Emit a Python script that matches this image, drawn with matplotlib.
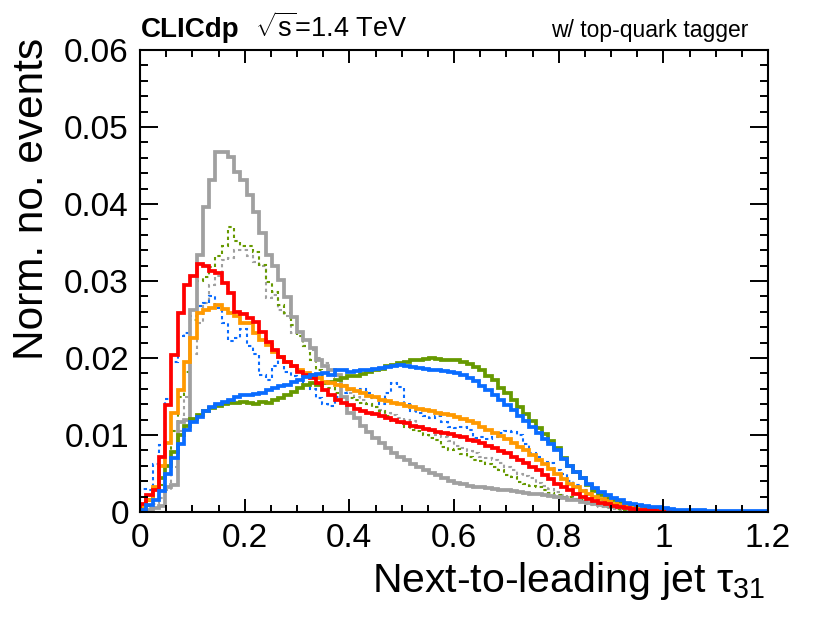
import numpy as np
import matplotlib
matplotlib.use("Agg")
import matplotlib.pyplot as plt
from matplotlib.ticker import MultipleLocator, FuncFormatter

plt.rcParams["font.family"] = ["Liberation Sans", "DejaVu Sans"]
plt.rcParams["mathtext.fontset"] = "custom"
plt.rcParams["mathtext.rm"] = "Liberation Sans"
plt.rcParams["mathtext.it"] = "Liberation Sans:italic"
plt.rcParams["mathtext.bf"] = "Liberation Sans:bold"

# 100 bins between 0 and 1.2
bin_edges = np.linspace(0.0, 1.2, 101)

gray_solid = [
    0.0002, 0.0002, 0.0005, 0.0008, 0.0033, 0.0035, 0.0117, 0.0120, 0.0262, 0.0334,
    0.0396, 0.0431, 0.0468, 0.0467, 0.0461, 0.0442, 0.0431, 0.0412, 0.0390, 0.0362,
    0.0334, 0.0319, 0.0301, 0.0279, 0.0253, 0.0234, 0.0223, 0.0213, 0.0197, 0.0189,
    0.0184, 0.0178, 0.0150, 0.0128, 0.0122, 0.0112, 0.0104, 0.0096, 0.0090, 0.0083,
    0.0077, 0.0071, 0.0067, 0.0062, 0.0058, 0.0055, 0.0051, 0.0048, 0.0044, 0.0040,
    0.0038, 0.0036, 0.0034, 0.0033, 0.0032, 0.0031, 0.0030, 0.0029, 0.0028, 0.0027,
    0.0026, 0.0025, 0.0024, 0.0023, 0.0022, 0.0021, 0.0019, 0.0018, 0.0016, 0.0015,
    0.0013, 0.0012, 0.0011, 0.0009, 0.0008, 0.0007, 0.0006, 0.0005, 0.0004, 0.0003,
    0.0002, 0.0002, 0.0001, 0.0001, 0.0, 0.0, 0.0, 0.0, 0.0, 0.0,
    0.0, 0.0, 0.0, 0.0, 0.0, 0.0, 0.0, 0.0, 0.0, 0.0,
]

gray_dotted = [
    0.0003, 0.0005, 0.0010, 0.0018, 0.0028, 0.0058, 0.0105, 0.0150, 0.0205, 0.0245,
    0.0272, 0.0295, 0.0306, 0.0327, 0.0330, 0.0340, 0.0340, 0.0333, 0.0325, 0.0319,
    0.0278, 0.0282, 0.0262, 0.0255, 0.0232, 0.0228, 0.0215, 0.0210, 0.0200, 0.0193,
    0.0185, 0.0175, 0.0165, 0.0155, 0.0150, 0.0145, 0.0140, 0.0136, 0.0132, 0.0129,
    0.0126, 0.0122, 0.0120, 0.0118, 0.0112, 0.0108, 0.0105, 0.0100, 0.0098, 0.0092,
    0.0086, 0.0083, 0.0079, 0.0076, 0.0072, 0.0070, 0.0068, 0.0063, 0.0058, 0.0054,
    0.0050, 0.0047, 0.0044, 0.0038, 0.0034, 0.0030, 0.0026, 0.0022, 0.0019, 0.0016,
    0.0013, 0.0011, 0.0009, 0.0007, 0.0005, 0.0004, 0.0003, 0.0002, 0.0001, 0.0001,
    0.0, 0.0, 0.0, 0.0, 0.0, 0.0, 0.0, 0.0, 0.0, 0.0,
    0.0, 0.0, 0.0, 0.0, 0.0, 0.0, 0.0, 0.0, 0.0, 0.0,
]

green_dotted = [
    0.0002, 0.0008, 0.0020, 0.0035, 0.0060, 0.0105, 0.0150, 0.0182, 0.0250, 0.0300,
    0.0305, 0.0318, 0.0332, 0.0345, 0.0370, 0.0352, 0.0345, 0.0345, 0.0338, 0.0321,
    0.0299, 0.0286, 0.0269, 0.0258, 0.0243, 0.0228, 0.0215, 0.0197, 0.0184, 0.0167,
    0.0161, 0.0155, 0.0150, 0.0148, 0.0145, 0.0142, 0.0140, 0.0137, 0.0131, 0.0125,
    0.0118, 0.0115, 0.0111, 0.0107, 0.0105, 0.0100, 0.0096, 0.0093, 0.0085, 0.0080,
    0.0082, 0.0075, 0.0071, 0.0068, 0.0066, 0.0062, 0.0058, 0.0054, 0.0048, 0.0045,
    0.0039, 0.0037, 0.0034, 0.0032, 0.0028, 0.0025, 0.0022, 0.0020, 0.0020, 0.0017,
    0.0015, 0.0013, 0.0011, 0.0009, 0.0007, 0.0006, 0.0004, 0.0003, 0.0002, 0.0001,
    0.0, 0.0, 0.0, 0.0, 0.0, 0.0, 0.0, 0.0, 0.0, 0.0,
    0.0, 0.0, 0.0, 0.0, 0.0, 0.0, 0.0, 0.0, 0.0, 0.0,
]

blue_dotted = [
    0.0030, 0.0028, 0.0062, 0.0087, 0.0147, 0.0195, 0.0228, 0.0232, 0.0255, 0.0268,
    0.0272, 0.0280, 0.0265, 0.0245, 0.0222, 0.0226, 0.0238, 0.0215, 0.0205, 0.0178,
    0.0172, 0.0190, 0.0200, 0.0182, 0.0176, 0.0170, 0.0165, 0.0160, 0.0148, 0.0140,
    0.0138, 0.0150, 0.0155, 0.0158, 0.0157, 0.0160, 0.0155, 0.0148, 0.0140, 0.0155,
    0.0167, 0.0162, 0.0140, 0.0131, 0.0128, 0.0125, 0.0122, 0.0125, 0.0117, 0.0110,
    0.0109, 0.0110, 0.0106, 0.0096, 0.0098, 0.0095, 0.0097, 0.0102, 0.0105, 0.0104,
    0.0100, 0.0088, 0.0076, 0.0072, 0.0065, 0.0063, 0.0055, 0.0050, 0.0040, 0.0035,
    0.0028, 0.0023, 0.0020, 0.0016, 0.0012, 0.0010, 0.0008, 0.0006, 0.0005, 0.0004,
    0.0003, 0.0003, 0.0002, 0.0002, 0.0001, 0.0, 0.0, 0.0, 0.0, 0.0,
    0.0, 0.0, 0.0, 0.0, 0.0, 0.0, 0.0, 0.0, 0.0, 0.0,
]

green_solid = [
    0.0004, 0.0015, 0.0030, 0.0044, 0.0060, 0.0078, 0.0100, 0.0112, 0.0121, 0.0126,
    0.0131, 0.0135, 0.0138, 0.0140, 0.0141, 0.0142, 0.0143, 0.0141, 0.0140, 0.0143,
    0.0141, 0.0146, 0.0148, 0.0152, 0.0156, 0.0161, 0.0165, 0.0167, 0.0165, 0.0167,
    0.0169, 0.0171, 0.0174, 0.0176, 0.0177, 0.0179, 0.0182, 0.0184, 0.0186, 0.0189,
    0.0191, 0.0193, 0.0195, 0.0197, 0.0198, 0.0199, 0.0200, 0.0199, 0.0198, 0.0197,
    0.0197, 0.0195, 0.0192, 0.0188, 0.0184, 0.0177, 0.0171, 0.0161, 0.0154, 0.0146,
    0.0137, 0.0127, 0.0118, 0.0109, 0.0101, 0.0092, 0.0083, 0.0070, 0.0060, 0.0052,
    0.0044, 0.0035, 0.0027, 0.0022, 0.0018, 0.0015, 0.0012, 0.0009, 0.0008, 0.0006,
    0.0005, 0.0004, 0.0003, 0.0002, 0.0001, 0.0, 0.0, 0.0, 0.0, 0.0,
    0.0, 0.0, 0.0, 0.0, 0.0, 0.0, 0.0, 0.0, 0.0, 0.0,
]

orange_solid = [
    0.0006, 0.0015, 0.0033, 0.0060, 0.0089, 0.0128, 0.0158, 0.0195, 0.0226, 0.0258,
    0.0262, 0.0265, 0.0269, 0.0264, 0.0258, 0.0254, 0.0245, 0.0245, 0.0232, 0.0223,
    0.0217, 0.0208, 0.0201, 0.0195, 0.0189, 0.0184, 0.0180, 0.0178, 0.0174, 0.0169,
    0.0167, 0.0165, 0.0163, 0.0160, 0.0157, 0.0154, 0.0151, 0.0149, 0.0146, 0.0144,
    0.0142, 0.0140, 0.0138, 0.0136, 0.0134, 0.0132, 0.0131, 0.0129, 0.0127, 0.0126,
    0.0124, 0.0121, 0.0118, 0.0115, 0.0111, 0.0107, 0.0103, 0.0099, 0.0095, 0.0090,
    0.0085, 0.0080, 0.0074, 0.0068, 0.0062, 0.0056, 0.0049, 0.0043, 0.0037, 0.0032,
    0.0027, 0.0023, 0.0020, 0.0017, 0.0014, 0.0011, 0.0009, 0.0007, 0.0005, 0.0004,
    0.0003, 0.0002, 0.0001, 0.0001, 0.0, 0.0, 0.0, 0.0, 0.0, 0.0,
    0.0, 0.0, 0.0, 0.0, 0.0, 0.0, 0.0, 0.0, 0.0, 0.0,
]

red_solid = [
    0.0011, 0.0022, 0.0029, 0.0072, 0.0139, 0.0204, 0.0258, 0.0295, 0.0306, 0.0322,
    0.0319, 0.0313, 0.0311, 0.0297, 0.0284, 0.0260, 0.0257, 0.0252, 0.0247, 0.0234,
    0.0221, 0.0210, 0.0201, 0.0195, 0.0189, 0.0182, 0.0178, 0.0174, 0.0167, 0.0159,
    0.0152, 0.0146, 0.0141, 0.0139, 0.0134, 0.0131, 0.0129, 0.0127, 0.0125, 0.0122,
    0.0119, 0.0117, 0.0115, 0.0112, 0.0110, 0.0108, 0.0106, 0.0104, 0.0102, 0.0101,
    0.0099, 0.0097, 0.0094, 0.0092, 0.0089, 0.0086, 0.0083, 0.0079, 0.0076, 0.0072,
    0.0068, 0.0064, 0.0059, 0.0054, 0.0048, 0.0043, 0.0037, 0.0033, 0.0028, 0.0023,
    0.0020, 0.0017, 0.0014, 0.0012, 0.0010, 0.0008, 0.0007, 0.0005, 0.0004, 0.0003,
    0.0002, 0.0002, 0.0001, 0.0001, 0.0, 0.0, 0.0, 0.0, 0.0, 0.0,
    0.0, 0.0, 0.0, 0.0, 0.0, 0.0, 0.0, 0.0, 0.0, 0.0,
]

blue_solid = [
    0.0003, 0.0009, 0.0016, 0.0027, 0.0050, 0.0070, 0.0088, 0.0106, 0.0117, 0.0124,
    0.0131, 0.0136, 0.0140, 0.0143, 0.0146, 0.0149, 0.0152, 0.0152, 0.0153, 0.0154,
    0.0159, 0.0161, 0.0163, 0.0165, 0.0169, 0.0172, 0.0175, 0.0178, 0.0179, 0.0180,
    0.0178, 0.0184, 0.0184, 0.0182, 0.0183, 0.0184, 0.0185, 0.0186, 0.0187, 0.0188,
    0.0190, 0.0191, 0.0189, 0.0188, 0.0187, 0.0186, 0.0185, 0.0184, 0.0183, 0.0182,
    0.0181, 0.0178, 0.0174, 0.0170, 0.0164, 0.0158, 0.0152, 0.0146, 0.0139, 0.0132,
    0.0125, 0.0118, 0.0110, 0.0103, 0.0095, 0.0088, 0.0080, 0.0069, 0.0060, 0.0052,
    0.0044, 0.0037, 0.0031, 0.0026, 0.0022, 0.0018, 0.0015, 0.0012, 0.0010, 0.0009,
    0.0008, 0.0007, 0.0006, 0.0005, 0.0004, 0.0003, 0.0003, 0.0002, 0.0002, 0.0002,
    0.0001, 0.0001, 0.0001, 0.0001, 0.0001, 0.0001, 0.0001, 0.0001, 0.0001, 0.0001,
]

GRAY = "#a0a0a0"
GREEN = "#669900"
BLUE = "#0a6cff"
ORANGE = "#ff9900"
RED = "#ff0000"

fig = plt.figure(figsize=(8.3, 6.23), dpi=100)
ax = fig.add_axes([140 / 830, 111 / 623, 628 / 830, 462 / 623])

dotted = (0, (1.6, 1.6))
ax.stairs(gray_dotted, bin_edges, color=GRAY, lw=1.5, linestyle=dotted)
ax.stairs(green_dotted, bin_edges, color=GREEN, lw=1.5, linestyle=dotted)
ax.stairs(blue_dotted, bin_edges, color=BLUE, lw=1.5, linestyle=dotted)
ax.stairs(gray_solid, bin_edges, color=GRAY, lw=2.7)
ax.stairs(green_solid, bin_edges, color=GREEN, lw=2.7)
ax.stairs(orange_solid, bin_edges, color=ORANGE, lw=2.7)
ax.stairs(red_solid, bin_edges, color=RED, lw=2.7)
ax.stairs(blue_solid, bin_edges, color=BLUE, lw=2.7)

ax.set_xlim(0, 1.2)
ax.set_ylim(0, 0.06)

ax.xaxis.set_major_locator(MultipleLocator(0.2))
ax.xaxis.set_minor_locator(MultipleLocator(0.05))
ax.yaxis.set_major_locator(MultipleLocator(0.01))
ax.yaxis.set_minor_locator(MultipleLocator(0.002))
fmt = FuncFormatter(lambda v, p: f"{v:g}")
ax.xaxis.set_major_formatter(fmt)
ax.yaxis.set_major_formatter(fmt)

for s in ax.spines.values():
    s.set_linewidth(1.5)

ax.tick_params(axis="both", which="both", direction="in", top=True, right=True,
               width=1.4, labelsize=24)
ax.tick_params(axis="x", which="major", length=9.5, pad=8)
ax.tick_params(axis="x", which="minor", length=5)
ax.tick_params(axis="y", which="major", length=13, pad=8)
ax.tick_params(axis="y", which="minor", length=6)

fig.text(32 / 830, 1 - 38 / 623, "Norm. no. events", rotation=90,
         ha="center", va="top", fontsize=30.5)
fig.text(765 / 830, 1 - 592 / 623, r"Next-to-leading jet $\mathrm{\tau}_{31}$",
         ha="right", va="baseline", fontsize=29.5)

fig.text(141 / 830, 1 - 37 / 623, "CLICdp", fontweight="bold", fontsize=20,
         ha="left", va="baseline")
fig.text(255 / 830, 1 - 37 / 623, r"$\sqrt{\mathrm{s}}$=1.4 TeV", fontsize=19.5,
         ha="left", va="baseline")
fig.text(748 / 830, 1 - 37 / 623, "w/ top-quark tagger", fontsize=16.5,
         ha="right", va="baseline")

fig.savefig("out.png", dpi=100)
